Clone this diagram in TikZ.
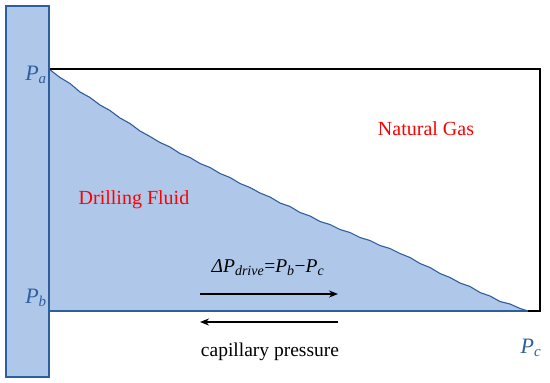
\documentclass[tikz,border=0pt]{standalone}
\usepackage{fontspec}
\setmainfont{Liberation Serif}
\usetikzlibrary{arrows.meta}
\definecolor{fluid}{HTML}{AFC7E9}
\definecolor{edge}{HTML}{2F5E9C}
\definecolor{lbl}{HTML}{2F5E9C}
\newcommand{\sbx}[1]{\textsubscript{\fontsize{14}{15}\selectfont #1}}
\newcommand{\sbp}[1]{\textsubscript{\fontsize{15}{16}\selectfont #1}}
\begin{document}
\begin{tikzpicture}[x=1pt,y=-1pt,
  plabel/.style={text=lbl,font=\fontsize{22}{24}\selectfont\itshape,inner sep=0pt},
  redtext/.style={text=red,font=\fontsize{20}{22}\selectfont,inner sep=0pt},
  blacktext/.style={inner sep=0pt,font=\fontsize{19.5}{21}\selectfont},
  arr/.style={-{Stealth[length=9pt,width=7pt]},line width=2pt}]
\useasboundingbox (0,0) rectangle (550,383);
% fluid region
\def\fluidline{(49,69) -- (60,77.5) -- (70,83.5) -- (80,92) -- (90,97.5) -- (100,105) -- (110,110.5) -- (120,118) -- (130,123.5) -- (140,131) -- (150,136.5) -- (160,142.5) -- (170,147) -- (180,153.5) -- (190,157.5) -- (200,163.5) -- (210,167.5) -- (220,173.5) -- (230,177.5) -- (240,183.5) -- (250,187.5) -- (260,193) -- (270,197) -- (280,203) -- (290,206.5) -- (300,212.5) -- (310,216) -- (320,221.5) -- (330,224.5) -- (340,229.5) -- (350,232.5) -- (360,237.5) -- (370,240.5) -- (380,245.5) -- (390,248.5) -- (400,253.5) -- (410,257.5) -- (420,263.5) -- (430,267.5) -- (440,273.5) -- (450,277.5) -- (460,283) -- (470,286.5) -- (480,292.5) -- (490,296) -- (500,301.5) -- (510,304) -- (520,308.5) -- (528,311)}
\fill[fluid] \fluidline -- (49,311) -- cycle;
\draw[edge,line width=1.1pt,line join=round] \fluidline;
% gas box
\draw[black,line width=1.1pt] (49,69) -- (540,69) -- (540,311) -- (526,311);
\draw[edge,line width=1.1pt] (49,311) -- (528,311);
% left column
\draw[edge,fill=fluid,line width=1.1pt] (6,6) rectangle (49,377);
% labels
\node[plabel] (pa) at (36,75) {P\sbp{a}};
\node[plabel] (pb) at (36,298) {P\sbp{b}};
\node[plabel] (pc) at (531,348) {P\sbp{c}};
\node[redtext] (gas) at (426,129) {Natural Gas};
\node[redtext] (fl) at (134,200) {Drilling Fluid};
\node[blacktext] (dp) at (268,268) {\textit{ΔP\sbx{drive}}=\textit{P\sbx{b}}−\textit{P\sbx{c}}};
\node[blacktext] (cp) at (270,352) {capillary pressure};
\coordinate (a1) at (200,294);
\coordinate (a2) at (338,294);
\coordinate (b1) at (338,322);
\coordinate (b2) at (200,322);
\draw[arr] (a1) -- (a2);
\draw[arr] (b1) -- (b2);
\end{tikzpicture}
\end{document}
